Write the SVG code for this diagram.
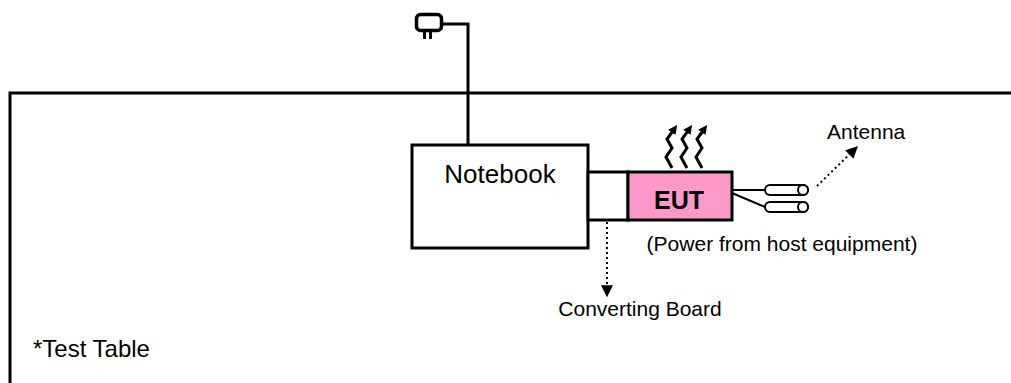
<svg xmlns="http://www.w3.org/2000/svg" width="1011" height="383" viewBox="0 0 1011 383">
<style>
text{font-family:"Liberation Sans",Arial,sans-serif;fill:#000}
.box{stroke:#000;stroke-width:3;fill:#fff}
.thin{stroke:#000;stroke-width:2;fill:none}
.dot{stroke:#000;stroke-width:2;stroke-dasharray:2,3;fill:none}
.wave{stroke:#000;stroke-width:3;fill:none;stroke-linejoin:miter}
</style>
<defs>
<marker id="ah" viewBox="0 0 10 10" refX="9" refY="5" markerWidth="12" markerHeight="12" markerUnits="userSpaceOnUse" orient="auto"><path d="M0,0 L10,5 L0,10 Z" fill="#000"/></marker>
<marker id="ahs" viewBox="0 0 10 10" refX="6" refY="5" markerWidth="9" markerHeight="9" markerUnits="userSpaceOnUse" orient="auto"><path d="M0,0 L10,5 L0,10 Z" fill="#000"/></marker>
</defs>
<g id="table">
<path d="M1011,93 H10 V383" fill="none" stroke="#000" stroke-width="3"/>
<text x="33" y="357" font-size="24">*Test Table</text>
</g>
<g id="plug">
<rect x="416.5" y="14.5" width="25" height="16" rx="4" fill="#fff" stroke="#000" stroke-width="3.5"/>
<rect x="423" y="31" width="3" height="8" fill="#000"/>
<rect x="429" y="31" width="3" height="8" fill="#000"/>
</g>
<g id="connectors">
<path d="M443,24 H468 V145" fill="none" stroke="#000" stroke-width="3"/>
<line x1="607" y1="222" x2="607" y2="296" class="dot" marker-end="url(#ah)"/>
<line x1="817" y1="186" x2="857" y2="147" class="dot" marker-end="url(#ah)"/>
<line x1="732" y1="190" x2="765" y2="190" class="thin"/>
<line x1="732" y1="193" x2="765" y2="207" class="thin"/>
</g>
<g id="notebook">
<rect x="412" y="145" width="176" height="103" class="box"/>
<text x="500" y="183" font-size="26" text-anchor="middle">Notebook</text>
</g>
<g id="converting-board">
<rect x="588" y="172" width="40" height="48" class="box"/>
<text x="640" y="316" font-size="21" text-anchor="middle">Converting Board</text>
</g>
<g id="eut">
<rect x="628" y="172" width="104" height="48" stroke="#000" stroke-width="3" fill="#FF99CC"/>
<text x="679" y="209" font-size="25" font-weight="bold" text-anchor="middle">EUT</text>
<text x="782" y="251" font-size="21" text-anchor="middle">(Power from host equipment)</text>
</g>
<g id="emission">
<path d="M672,168 L666,157 L672,148 L667,139 L675,128" class="wave" marker-end="url(#ahs)"/>
<path d="M687,168 L681,157 L687,148 L682,139 L690,128" class="wave" marker-end="url(#ahs)"/>
<path d="M702,168 L696,157 L702,148 L697,139 L705,128" class="wave" marker-end="url(#ahs)"/>
</g>
<g id="antenna">
<rect x="765" y="185" width="43" height="10" rx="5" fill="#fff" stroke="#000" stroke-width="2"/>
<ellipse cx="803" cy="190" rx="5" ry="5" fill="#fff" stroke="#000" stroke-width="2"/>
<rect x="765" y="202" width="43" height="10" rx="5" fill="#fff" stroke="#000" stroke-width="2"/>
<ellipse cx="803" cy="207" rx="5" ry="5" fill="#fff" stroke="#000" stroke-width="2"/>
<text x="827" y="139" font-size="21">Antenna</text>
</g>
</svg>
